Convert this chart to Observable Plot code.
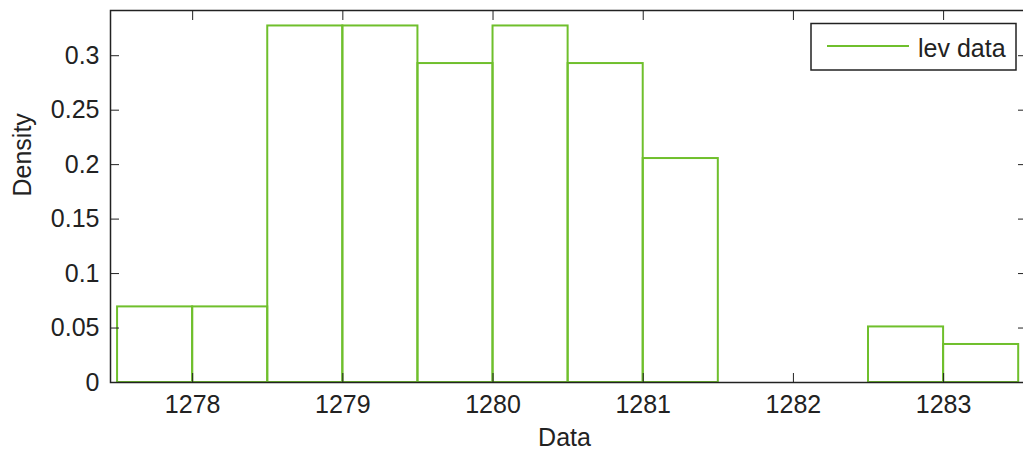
<!DOCTYPE html>
<html><head><meta charset="utf-8">
<script src="https://cdn.jsdelivr.net/npm/d3@7"></script>
<script src="https://cdn.jsdelivr.net/npm/@observablehq/plot@0.6"></script>
<style>
html,body{margin:0;padding:0;background:#fff;overflow:hidden;}
#chart{position:relative;width:1023px;height:453px;overflow:hidden;}
</style></head><body><div id="chart"></div>
<script>
const binEdges = [1277.5, 1278, 1278.5, 1279, 1279.5, 1280, 1280.5, 1281, 1281.5, 1282, 1282.5, 1283, 1283.5];
const densities = [0.0694, 0.0694, 0.3273, 0.3273, 0.2928, 0.3273, 0.2928, 0.2056, 0, 0, 0.0510, 0.0349];
const xTicks = [1278, 1279, 1280, 1281, 1282, 1283];
const xTickLabels = ["1278", "1279", "1280", "1281", "1282", "1283"];
const yTicks = [0, 0.05, 0.1, 0.15, 0.2, 0.25, 0.3];
const yTickLabels = ["0", "0.05", "0.1", "0.15", "0.2", "0.25", "0.3"];
const seriesName = "lev data";
const xLabel = "Data";
const yLabel = "Density";
const xDomain = [1277.453, 1283.552];
const yDomain = [0, 0.3415];

const bins = densities.map((d, i) => ({x1: binEdges[i], x2: binEdges[i + 1], density: d}));
const green = "#6fbf2c";
const ink = "#222222";
const font = "'Liberation Sans', Arial, Helvetica, sans-serif";

const plot = Plot.plot({
  width: 1023, height: 453,
  marginLeft: 110, marginRight: -3, marginTop: 10, marginBottom: 71,
  style: {fontFamily: font, fontSize: "25px", color: ink, background: "#fff"},
  x: {domain: xDomain},
  y: {domain: yDomain},
  marks: [
    Plot.rect(bins, {x1: "x1", x2: "x2", y1: 0, y2: "density", fill: "none", stroke: green, strokeWidth: 2}),
    Plot.frame({stroke: ink, strokeWidth: 1.5}),
    Plot.axisX({ticks: xTicks, tickSize: -9, tickPadding: 22, tickFormat: d => xTickLabels[xTicks.indexOf(d)], label: null, fontSize: 25}),
    Plot.axisX({anchor: "top", ticks: xTicks, tickSize: -9, tickFormat: () => "", label: null}),
    Plot.axisY({ticks: yTicks, tickSize: -9, tickPadding: 20, tickFormat: d => yTickLabels[yTicks.indexOf(d)], label: null, fontSize: 25}),
    Plot.axisY({anchor: "right", ticks: yTicks, tickSize: -9, tickFormat: () => "", label: null}),
    Plot.text([xLabel], {text: d => d, frameAnchor: "bottom", dx: -4, dy: 55, lineAnchor: "middle", fontSize: 25, fill: ink}),
    Plot.text([yLabel], {text: d => d, frameAnchor: "left", dx: -88, rotate: -90, lineAnchor: "middle", fontSize: 25, fill: ink})
  ]
});
document.getElementById("chart").appendChild(plot);

// legend box (inside the axes, top right)
const svg = d3.select(plot);
const lg = svg.append("g").attr("class", "legend");
lg.append("rect").attr("x", 811).attr("y", 23.5).attr("width", 205).attr("height", 46.5)
  .attr("fill", "#fff").attr("stroke", ink).attr("stroke-width", 1.5);
lg.append("line").attr("x1", 827).attr("x2", 909).attr("y1", 46).attr("y2", 46)
  .attr("stroke", green).attr("stroke-width", 2);
lg.append("text").attr("x", 918).attr("y", 56.5).attr("font-size", 25)
  .attr("text-anchor", "start")
  .attr("font-family", font).attr("fill", ink).text(seriesName);
</script></body></html>
